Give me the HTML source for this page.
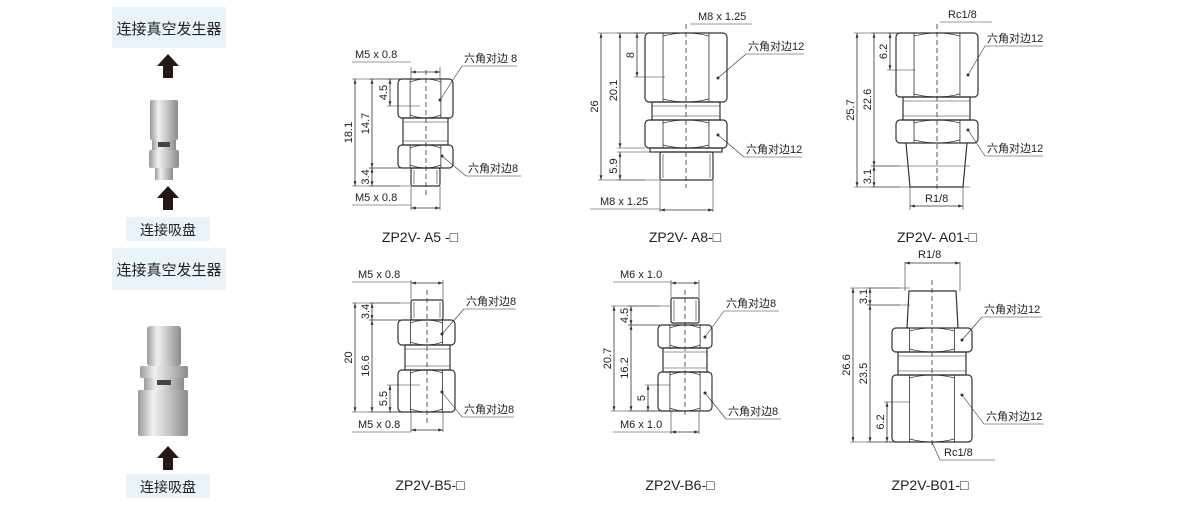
<!DOCTYPE html>
<html><head><meta charset="utf-8"><style>
body{margin:0;background:#fff;width:1200px;height:500px;overflow:hidden;font-family:"Liberation Sans","Noto Sans CJK SC",sans-serif}
svg text{font-family:"Liberation Sans","Noto Sans CJK SC",sans-serif;fill:#222}
</style></head><body>
<svg id="s" width="1200" height="500" viewBox="0 0 1200 500" xmlns="http://www.w3.org/2000/svg">
<defs>
<linearGradient id="met" x1="0" x2="1" y1="0" y2="0">
<stop offset="0" stop-color="#9a9a9a"/><stop offset="0.3" stop-color="#f0f0f0"/><stop offset="0.55" stop-color="#cfcfcf"/><stop offset="1" stop-color="#8a8a8a"/></linearGradient>
<marker id="ar" viewBox="0 0 10 10" refX="10" refY="5" markerWidth="6" markerHeight="6" orient="auto-start-reverse"><path d="M0,2 L10,5 L0,8 z" fill="#333"/></marker>
</defs>
<rect x="112" y="7" width="114" height="41" fill="#e9f3fb"/>
<text x="169" y="34" font-size="15" text-anchor="middle">连接真空发生器</text>
<path d="M163,78 V66 H157 L168,54 L179,66 H173 V78 Z" fill="#231815"/>
<rect x="150" y="100" width="28" height="40" fill="url(#met)" rx="2"/>
<rect x="152" y="140" width="24" height="10" fill="url(#met)"/>
<rect x="158" y="142" width="12" height="5" fill="#444"/>
<rect x="149" y="150" width="30" height="18" fill="url(#met)" rx="2"/>
<rect x="155" y="168" width="18" height="12" fill="url(#met)"/>
<path d="M163,210 V198 H157 L168,186 L179,198 H173 V210 Z" fill="#231815"/>
<rect x="126" y="217" width="84" height="24" fill="#e9f3fb"/>
<text x="168" y="235" font-size="14" text-anchor="middle">连接吸盘</text>
<rect x="112" y="248" width="114" height="42" fill="#e9f3fb"/>
<text x="169" y="275" font-size="15" text-anchor="middle">连接真空发生器</text>
<rect x="147" y="326" width="34" height="40" fill="url(#met)" rx="3"/>
<rect x="140" y="366" width="48" height="12" fill="url(#met)" rx="2"/>
<rect x="144" y="378" width="40" height="12" fill="url(#met)"/>
<rect x="157" y="380" width="14" height="5" fill="#444"/>
<rect x="138" y="390" width="50" height="46" fill="url(#met)" rx="2"/>
<path d="M163,470 V458 H157 L168,446 L179,458 H173 V470 Z" fill="#231815"/>
<rect x="126" y="474" width="84" height="24" fill="#e9f3fb"/>
<text x="168" y="492" font-size="14" text-anchor="middle">连接吸盘</text>
<g id="d" stroke="#333" fill="none" stroke-width="1"></g>
<g id="t" font-size="11"></g>
</svg>
<script>
const d=document.getElementById('d'),t=document.getElementById('t');
let S='',T='';
function L(x1,y1,x2,y2,w,extra){S+=`<line x1="${x1}" y1="${y1}" x2="${x2}" y2="${y2}" stroke-width="${w||0.8}" ${extra||''}/>`;}
function hex(x1,x2,y1,y2){const w=x2-x1,a=x1+w*0.22,b=x2-w*0.22,h=y2-y1;
S+=`<rect x="${x1}" y="${y1}" width="${w}" height="${h}" rx="4" stroke-width="1.2"/>`;
L(a,y1,a,y2);L(b,y1,b,y2);
S+=`<path d="M${a},${y1+3} Q${(a+b)/2},${y1-3} ${b},${y1+3} M${a},${y2-3} Q${(a+b)/2},${y2+3} ${b},${y2-3}" stroke-width="0.8"/>`;}
function neck(x1,x2,y1,y2){S+=`<rect x="${x1}" y="${y1}" width="${x2-x1}" height="${y2-y1}" stroke-width="1.2"/>`;L(x1,y1+4,x2,y1+4,0.6);L(x1,y2-4,x2,y2-4,0.6);}
function thr(x1,x2,y1,y2){S+=`<rect x="${x1}" y="${y1}" width="${x2-x1}" height="${y2-y1}" rx="2" stroke-width="1.2"/>`;L(x1+3,y1+2,x1+3,y2-2,0.6);L(x2-3,y1+2,x2-3,y2-2,0.6);}
function cl(x,y1,y2){L(x,y1,x,y2,0.8,'stroke-dasharray="5,3"');}
function vd(x,y1,y2,lab,ex){L(x,y1,x,y2,0.8,'marker-start="url(#ar)" marker-end="url(#ar)"');
L(x-3,y1,ex,y1,0.6);L(x-3,y2,ex,y2,0.6);
const m=(y1+y2)/2;T+=`<text x="${x-3}" y="${m}" font-size="11" transform="rotate(-90 ${x-3} ${m})" text-anchor="middle">${lab}</text>`;}
function hd(y,x1,x2,lab,lx,ly,lineX){L(x1,y,x2,y,0.8,'marker-start="url(#ar)" marker-end="url(#ar)"');
if(lab){T+=`<text x="${lx}" y="${ly}" font-size="11">${lab}</text>`;L(lineX,ly+4,x1,ly+4,0.6);}}
function lead(px,py,tx,ty,lab,len){L(px,py,tx,ty+4,0.6);L(tx,ty+4,tx+len,ty+4,0.6);T+=`<text x="${tx+2}" y="${ty}" font-size="11">${lab}</text>`;S+=`<circle cx="${px}" cy="${py}" r="1" fill="#333"/>`;}
function title(x,y,s){T+=`<text x="${x}" y="${y}" font-size="14" text-anchor="middle">${s}</text>`;}
hex(398,453,79,118);neck(403,448,118,145);hex(398,453,145,168);thr(411,440,168,186);cl(426,70,195);
vd(355,79,186,'18.1',400);vd(372,79,168,'14.7',400);vd(390,79,106,'4.5',420);vd(372,168,186,'3.4',410);
L(411,67,411,79,0.6);L(440,67,440,79,0.6);hd(72,411,440,'M5 x 0.8',355,58,352);
L(411,186,411,210,0.6);L(440,186,440,210,0.6);hd(208,411,440,'M5 x 0.8',355,201,352);
lead(440,100,462,62,'六角对边 8',55);lead(442,156,466,172,'六角对边8',55);title(420,242,'ZP2V- A5 -□');
hex(645,727,33,102);neck(652,720,102,120);hex(645,727,120,148);neck(650,722,148,152);thr(660,713,152,180);cl(686,24,188);
vd(601,33,180,'26',645);vd(620,33,148,'20.1',645);vd(637,33,77,'8',665);vd(620,152,180,'5.9',660);
L(660,180,660,212,0.6);L(713,180,713,212,0.6);hd(210,660,713,'M8 x 1.25',600,205,590);
T+=`<text x="698" y="20" font-size="11">M8 x 1.25</text>`;L(690,24,752,24,0.6);
lead(718,78,746,50,'六角对边12',58);lead(718,135,744,153,'六角对边12',58);title(685,242,'ZP2V- A8-□');
hex(896,978,33,97);neck(903,970,97,120);hex(896,978,120,143);
S+=`<path d="M906,143 L910,187 L963,187 L967,143" stroke-width="1.2"/>`;cl(937,24,190);
vd(857,33,187,'25.7',900);vd(874,33,166,'22.6',900);vd(890,33,70,'6.2',915);vd(874,166,187,'3.1',970);
L(910,187,910,210,0.6);L(963,187,963,210,0.6);hd(206,910,963,'',0,0,0);T+=`<text x="925" y="202" font-size="11">R1/8</text>`;
T+=`<text x="948" y="18" font-size="11">Rc1/8</text>`;L(940,22,992,22,0.6);
lead(968,75,985,42,'六角对边12',58);lead(968,130,985,152,'六角对边12',58);title(937,242,'ZP2V- A01-□');
thr(411,443,300,320);hex(398,455,320,345);neck(405,450,345,370);hex(398,455,370,412);cl(427,290,425);
vd(355,303,412,'20',400);vd(372,320,412,'16.6',400);vd(390,385,412,'5.5',420);vd(372,303,320,'3.4',410);
L(411,280,411,300,0.6);L(443,280,443,300,0.6);hd(283,411,443,'M5 x 0.8',358,278,352);
L(411,412,411,432,0.6);L(443,412,443,432,0.6);hd(430,411,443,'M5 x 0.8',358,428,352);
lead(442,334,464,305,'六角对边8',52);lead(442,392,462,413,'六角对边8',52);title(430,490,'ZP2V-B5-□');
thr(671,699,298,323);hex(658,712,325,348);neck(663,707,348,372);hex(658,712,372,411);cl(685,290,418);
vd(614,306,411,'20.7',660);vd(631,325,411,'16.2',660);vd(648,385,411,'5',670);vd(631,306,325,'4.5',670);
L(671,280,671,298,0.6);L(699,280,699,298,0.6);hd(283,671,699,'M6 x 1.0',620,278,613);
L(671,411,671,434,0.6);L(699,411,699,434,0.6);hd(432,671,699,'M6 x 1.0',620,428,613);
lead(705,337,724,307,'六角对边8',55);lead(705,393,726,415,'六角对边8',55);title(680,490,'ZP2V-B6-□');
S+=`<path d="M907,328 L909,291 L956,291 L958,328" stroke-width="1.2"/>`;hex(892,972,328,352);neck(898,966,352,375);hex(892,972,375,442);cl(932,280,448);
vd(853,288,442,'26.6',900);vd(870,305,442,'23.5',900);vd(887,402,442,'6.2',910);vd(870,288,305,'3.1',910);
L(905,262,905,291,0.6);L(960,262,960,291,0.6);hd(263,905,960,'',0,0,0);T+=`<text x="918" y="258" font-size="11">R1/8</text>`;
L(932,442,940,460,0.6);L(940,460,995,460,0.6);T+=`<text x="944" y="456" font-size="11">Rc1/8</text>`;
lead(962,340,982,313,'六角对边12',60);lead(962,395,984,420,'六角对边12',60);title(930,490,'ZP2V-B01-□');
d.innerHTML=S;t.innerHTML=T;
</script>
</body></html>
